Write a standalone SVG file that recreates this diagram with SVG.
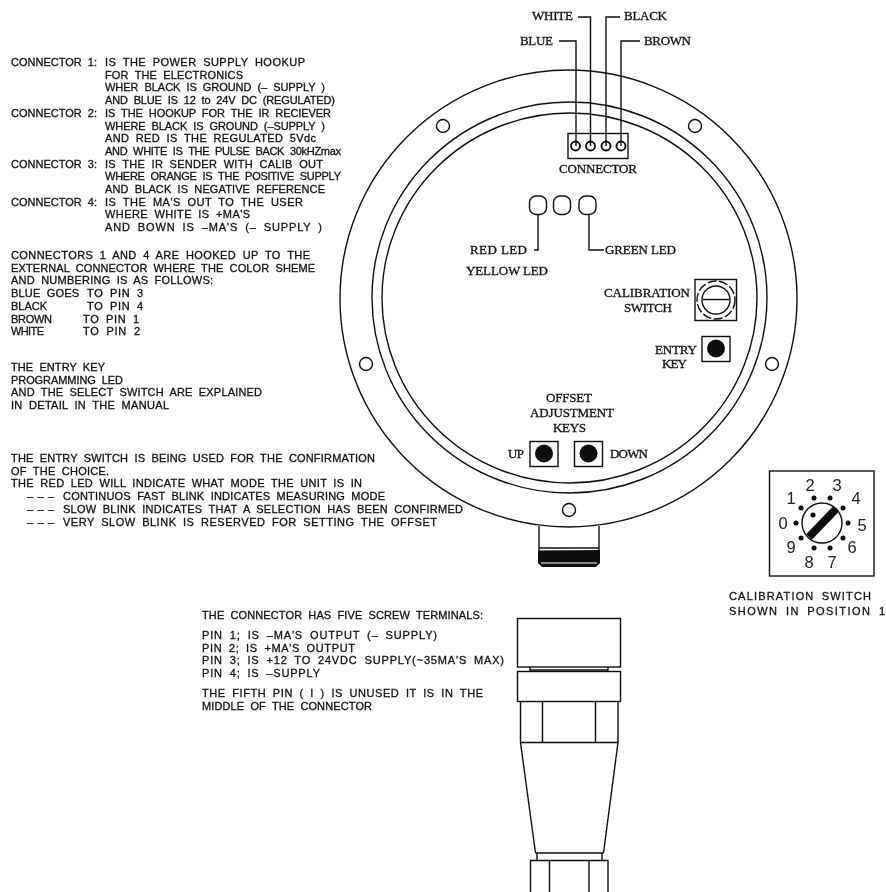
<svg xmlns="http://www.w3.org/2000/svg" width="886" height="892" viewBox="0 0 886 892">
<style>
.s{fill:none;stroke:#111;stroke-width:1.4}
.t{fill:none;stroke:#111;stroke-width:1.9}
.f{fill:#0a0a0a;stroke:none}
text{fill:#111}
.n text{font-family:"Liberation Sans",Arial,sans-serif;font-size:11px;word-spacing:3px;stroke:#111;stroke-width:.3}
.l text{font-family:"Liberation Serif","Times New Roman",serif;font-size:13px;fill:#111;stroke:#111;stroke-width:.3}
.d text{font-family:"Liberation Sans",Arial,sans-serif;font-size:16.5px;text-anchor:middle;fill:#222}
</style>
<defs><filter id="soft" x="0" y="0" width="100%" height="100%"><feGaussianBlur stdDeviation="0.4"/></filter></defs>
<rect width="886" height="892" fill="#fff"/>
<g filter="url(#soft)">
<g id="housing" class="s">
<ellipse cx="568.5" cy="298.5" rx="228.5" ry="228.5"/>
<ellipse cx="569.5" cy="297.5" rx="197.5" ry="195.5"/>
<ellipse cx="569.5" cy="298" rx="187.5" ry="185"/>
<circle cx="443" cy="126" r="6.5"/><circle cx="695" cy="126" r="6.5"/><circle cx="366" cy="364" r="6.5"/><circle cx="772" cy="364" r="6.5"/><circle cx="569" cy="510" r="6.5"/>
</g>
<g id="stem">
<path class="s" d="M539 526V562M599 526V562M539 548H599"/>
<path class="f" d="M538 550.500L600 550V563L596 567H542L538 563Z"/>
<path d="M541 563H597" stroke="#fff" stroke-width="1.200"/>
</g>
<g id="connectors" class="s">
<path d="M559 41H576V146"/><path d="M578 17H590.500V146"/><path d="M620 17H606V146"/><path d="M640 41H621V146"/>
<path d="M538 215V250H534"/><path d="M589 215V250H604"/>
</g>
<g id="connector-block">
<rect class="s" x="568" y="133.500" width="60" height="25"/>
<circle class="t" cx="575.500" cy="146" r="4.500"/><circle class="t" cx="590.500" cy="146" r="4.500"/><circle class="t" cx="606" cy="146" r="4.500"/><circle class="t" cx="621" cy="146" r="4.500"/>
</g>
<g id="leds" class="s">
<rect x="529.500" y="196" width="17" height="18.500" rx="6.500"/><rect x="553.500" y="196" width="17" height="18.500" rx="6.500"/><rect x="579" y="196" width="17" height="18.500" rx="6.500"/>
</g>
<g id="calibration-switch">
<rect class="s" x="695" y="279.500" width="41.500" height="41"/>
<circle class="s" cx="716" cy="300" r="19" stroke-dasharray="9 2.500"/>
<circle class="s" cx="716" cy="300" r="14"/>
<path class="s" d="M703 299.500H729"/>
</g>
<g id="entry-key"><rect class="s" x="702" y="336.500" width="28" height="25"/><circle class="f" cx="716" cy="348.500" r="9"/></g>
<g id="up-key"><rect class="s" x="530" y="441.500" width="28" height="25"/><circle class="f" cx="544" cy="453.500" r="9"/></g>
<g id="down-key"><rect class="s" x="574.500" y="441.500" width="28" height="25"/><circle class="f" cx="588.500" cy="453.500" r="9"/></g>
<g id="plug" class="s">
<rect x="517.500" y="618.500" width="103" height="48.500"/>
<path d="M530 667V671M608 667V671M530 670H608"/>
<rect x="517.500" y="671.500" width="103" height="30"/>
<path d="M520.500 701.500V742.500M618 701.500V742.500M542.500 701.500V742.500M595.500 701.500V742.500M520.500 742.500H618"/>
<path d="M520.500 742.500L535.500 853M618 742.500L603.500 853M535.500 853H603.500M537 853V860M602 853V860"/>
<path d="M530.500 892V860.500H608V892M549.500 860.500V892M589 860.500V892"/>
</g>
<g id="position-switch">
<rect class="s" x="769.500" y="471" width="104.500" height="105" stroke-width="1.800"/>
<circle class="s" cx="822" cy="523" r="20"/>
<path d="M809 537L836 509" stroke="#0a0a0a" stroke-width="8" fill="none"/>
<g class="f"><circle cx="813" cy="515" r="2.500"/><circle cx="796" cy="523" r="2.500"/><circle cx="801" cy="508" r="2.500"/><circle cx="814" cy="498" r="2.500"/><circle cx="830" cy="498" r="2.500"/><circle cx="843" cy="508" r="2.500"/><circle cx="848" cy="523" r="2.500"/><circle cx="843" cy="538" r="2.500"/><circle cx="830" cy="548" r="2.500"/><circle cx="814" cy="548" r="2.500"/><circle cx="801" cy="538" r="2.500"/></g>
<g class="d">
<text x="783" y="529">0</text><text x="791" y="504">1</text><text x="810" y="491">2</text><text x="837" y="491">3</text><text x="856" y="504">4</text><text x="862" y="531">5</text><text x="852" y="553">6</text><text x="832" y="568">7</text><text x="809" y="568">8</text><text x="791" y="553">9</text>
</g>
</g>
<g class="l">
<text x="532" y="20" textLength="41">WHITE</text><text x="624" y="20" textLength="43">BLACK</text>
<text x="520" y="45" textLength="33">BLUE</text><text x="644" y="45" textLength="47">BROWN</text>
<text x="559" y="173" textLength="78">CONNECTOR</text>
<text x="470" y="254" textLength="57">RED LED</text><text x="605" y="254" textLength="71">GREEN LED</text><text x="466" y="275" textLength="82">YELLOW LED</text>
<text x="604" y="297" textLength="86">CALIBRATION</text><text x="624" y="312" textLength="48">SWITCH</text>
<text x="655" y="354" textLength="42">ENTRY</text><text x="662" y="368" textLength="25">KEY</text>
<text x="546" y="402" textLength="46">OFFSET</text><text x="530" y="417" textLength="84">ADJUSTMENT</text><text x="553" y="432" textLength="33">KEYS</text>
<text x="508" y="458" textLength="16">UP</text><text x="610" y="458" textLength="38">DOWN</text>
</g>
<g class="n">
<text x="11" y="66" textLength="86">CONNECTOR 1:</text><text x="105" y="66" textLength="200">IS THE POWER SUPPLY HOOKUP</text>
<text x="105" y="78.700" textLength="138">FOR THE ELECTRONICS</text>
<text x="105" y="91.400" textLength="220">WHER BLACK IS GROUND (– SUPPLY )</text>
<text x="105" y="104.100" textLength="230">AND BLUE IS 12 to 24V DC (REGULATED)</text>
<text x="11" y="116.800" textLength="86">CONNECTOR 2:</text><text x="105" y="116.800" textLength="226">IS THE HOOKUP FOR THE IR RECIEVER</text>
<text x="105" y="129.500" textLength="220">WHERE BLACK IS GROUND (–SUPPLY )</text>
<text x="105" y="142.200" textLength="211">AND RED IS THE REGULATED 5Vdc</text>
<text x="105" y="154.900" textLength="236">AND WHITE IS THE PULSE BACK 30kHZmax</text>
<text x="11" y="167.600" textLength="86">CONNECTOR 3:</text><text x="105" y="167.600" textLength="218">IS THE IR SENDER WITH CALIB OUT</text>
<text x="105" y="180.300" textLength="236">WHERE ORANGE IS THE POSITIVE SUPPLY</text>
<text x="105" y="193" textLength="220">AND BLACK IS NEGATIVE REFERENCE</text>
<text x="11" y="205.700" textLength="86">CONNECTOR 4:</text><text x="105" y="205.700" textLength="198">IS THE MA'S OUT TO THE USER</text>
<text x="105" y="218.400" textLength="145">WHERE WHITE IS +MA'S</text>
<text x="105" y="231.100" textLength="217">AND BOWN IS –MA'S (– SUPPLY )</text>
<text x="11" y="259" textLength="299">CONNECTORS 1 AND 4 ARE HOOKED UP TO THE</text>
<text x="11" y="271.700" textLength="304">EXTERNAL CONNECTOR WHERE THE COLOR SHEME</text>
<text x="11" y="284.400" textLength="202">AND NUMBERING IS AS FOLLOWS:</text>
<text x="11" y="297.100" textLength="68">BLUE GOES</text><text x="87" y="297.100" textLength="56">TO PIN 3</text>
<text x="11" y="309.800" textLength="36">BLACK</text><text x="87" y="309.800" textLength="56">TO PIN 4</text>
<text x="11" y="322.500" textLength="41">BROWN</text><text x="83" y="322.500" textLength="56">TO PIN 1</text>
<text x="11" y="335.200" textLength="33">WHITE</text><text x="83" y="335.200" textLength="57">TO PIN 2</text>
<text x="11" y="371" textLength="94">THE ENTRY KEY</text>
<text x="11" y="383.700" textLength="112">PROGRAMMING LED</text>
<text x="11" y="396.400" textLength="251">AND THE SELECT SWITCH ARE EXPLAINED</text>
<text x="11" y="409.100" textLength="158">IN DETAIL IN THE MANUAL</text>
<text x="11" y="462" textLength="364">THE ENTRY SWITCH IS BEING USED FOR THE CONFIRMATION</text>
<text x="11" y="474.700" textLength="98">OF THE CHOICE.</text>
<text x="11" y="487.400" textLength="351">THE RED LED WILL INDICATE WHAT MODE THE UNIT IS IN</text>
<text x="27" y="500.100" textLength="27">–––</text><text x="63" y="500.100" textLength="322">CONTINUOS FAST BLINK INDICATES MEASURING MODE</text>
<text x="27" y="512.800" textLength="27">–––</text><text x="63" y="512.800" textLength="400">SLOW BLINK INDICATES THAT A SELECTION HAS BEEN CONFIRMED</text>
<text x="27" y="525.500" textLength="27">–––</text><text x="63" y="525.500" textLength="374">VERY SLOW BLINK IS RESERVED FOR SETTING THE OFFSET</text>
<text x="202" y="619" textLength="281">THE CONNECTOR HAS FIVE SCREW TERMINALS:</text>
<text x="202" y="639" textLength="235">PIN 1; IS –MA'S OUTPUT (– SUPPLY)</text>
<text x="202" y="651.700" textLength="153">PIN 2; IS +MA'S OUTPUT</text>
<text x="202" y="664.400" textLength="302">PIN 3; IS +12 TO 24VDC SUPPLY(~35MA'S MAX)</text>
<text x="202" y="677.100" textLength="118">PIN 4; IS –SUPPLY</text>
<text x="202" y="697" textLength="281">THE FIFTH PIN ( I ) IS UNUSED IT IS IN THE</text>
<text x="202" y="709.700" textLength="170">MIDDLE OF THE CONNECTOR</text>
<text x="729" y="600" textLength="142">CALIBRATION SWITCH</text>
<text x="729" y="615" textLength="156">SHOWN IN POSITION 1</text>
</g>
</g>
</svg>
